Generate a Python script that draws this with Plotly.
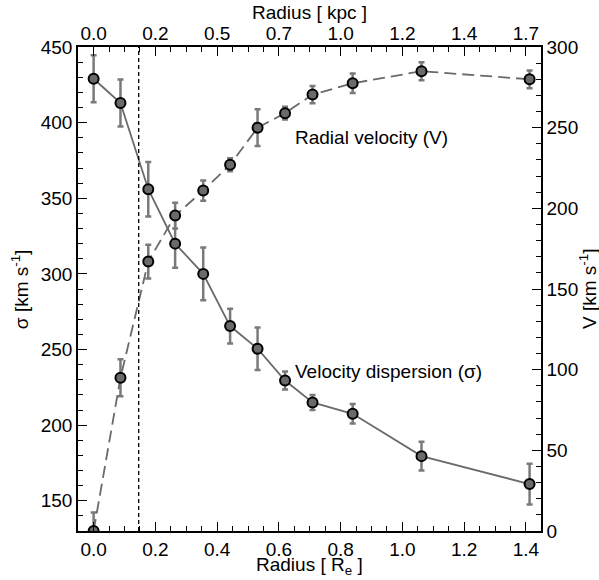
import plotly.graph_objects as go

# Radius in units of R_e
radius_re = [0.0, 0.087, 0.177, 0.264, 0.355, 0.442, 0.531, 0.620, 0.709, 0.839, 1.062, 1.412]
# Velocity dispersion sigma [km/s] and errors
sigma = [429, 413, 356, 320, 300, 265.5, 250.5, 229.5, 215, 207.5, 179.5, 161]
sigma_err = [15.5, 15.5, 18, 16, 17.5, 11.5, 14, 6, 5, 6.5, 9.5, 13.5]
# Radial velocity V [km/s] and errors
vel = [0, 95, 167, 195.5, 211, 227, 250, 259, 270.5, 277.5, 285, 280]
vel_err = [11.5, 11.5, 10.5, 8, 6.3, 4, 11.4, 4, 5.4, 6, 5.6, 5.5]
# Top axis (kpc) tick labels at bottom-axis tick positions
tick_re = [0.0, 0.2, 0.4, 0.6, 0.8, 1.0, 1.2, 1.4]
tick_kpc = ["0.0", "0.2", "0.5", "0.7", "1.0", "1.2", "1.4", "1.7"]
vline_x = 0.146

FONT = "Liberation Sans, Arial, sans-serif"
FS = 19
GRAY = "#6a6a6a"
ERRC = "#7a7a7a"

fig = go.Figure()

fig.add_trace(go.Scatter(
    x=radius_re, y=sigma, mode="lines+markers",
    line=dict(color=GRAY, width=1.8),
    marker=dict(size=10, color=GRAY, line=dict(color="black", width=2)),
    error_y=dict(type="data", array=sigma_err, color=ERRC, thickness=2.5, width=3),
    xaxis="x", yaxis="y", showlegend=False, cliponaxis=False,
))

fig.add_trace(go.Scatter(
    x=radius_re, y=vel, mode="lines+markers",
    line=dict(color=GRAY, width=1.8, dash="12px,6px"),
    marker=dict(size=10, color=GRAY, line=dict(color="black", width=2)),
    error_y=dict(type="data", array=vel_err, color=ERRC, thickness=2.5, width=3),
    xaxis="x2", yaxis="y2", showlegend=False,
))

fig.add_shape(type="line", xref="x", yref="paper", x0=vline_x, x1=vline_x, y0=0, y1=1,
              line=dict(color="black", width=1.3, dash="4px,3px"))

tfont = dict(family=FONT, size=FS, color="black")
fig.add_annotation(x=0.646, y=390, xref="x", yref="y", text="Radial velocity (V)",
                   showarrow=False, xanchor="left", yanchor="middle", font=tfont)
fig.add_annotation(x=0.646, y=235.4, xref="x", yref="y", text="Velocity dispersion (σ)",
                   showarrow=False, xanchor="left", yanchor="middle", font=tfont)

# axis titles
fig.add_annotation(x=0.5, y=-0.0733, xref="paper", yref="paper", text="Radius [ R<sub>e</sub> ]",
                   showarrow=False, xanchor="center", yanchor="middle", font=tfont)
fig.add_annotation(x=0.5, y=1.0722, xref="paper", yref="paper", text="Radius [ kpc ]",
                   showarrow=False, xanchor="center", yanchor="middle", font=tfont)
fig.add_annotation(x=-0.125, y=0.5, xref="paper", yref="paper", text="σ [km s<sup>-1</sup>]",
                   showarrow=False, xanchor="center", yanchor="middle", textangle=-90, font=tfont)
fig.add_annotation(x=1.1015, y=0.5, xref="paper", yref="paper", text="V [km s<sup>-1</sup>]",
                   showarrow=False, xanchor="center", yanchor="middle", textangle=-90, font=tfont)

xr = [-0.0506, 1.449]
common = dict(showgrid=False, zeroline=False, showline=True, linecolor="black", linewidth=1.5,
              ticks="inside", ticklen=9, tickwidth=1.3, tickcolor="black", automargin=False,
              tickfont=dict(family=FONT, size=FS, color="black"))
minor_x = dict(dtick=0.05, ticks="inside", ticklen=5, tickwidth=1.2, tickcolor="black")
minor_y = dict(dtick=10, ticks="inside", ticklen=5, tickwidth=1.2, tickcolor="black")

fig.update_layout(
    width=599, height=580,
    margin=dict(l=78, r=58, t=47, b=48.5),
    paper_bgcolor="white", plot_bgcolor="white",
    font=dict(family=FONT, size=FS, color="black"),
    xaxis=dict(range=xr, tickvals=tick_re, tickformat=".1f", minor=minor_x, ticklabelstandoff=0, **common),
    xaxis2=dict(range=xr, overlaying="x", side="top", tickvals=tick_re, ticktext=tick_kpc,
                minor=minor_x, ticklabelstandoff=-2, **common),
    yaxis=dict(range=[130, 450], tickvals=[150, 200, 250, 300, 350, 400, 450], minor=minor_y, **common),
    yaxis2=dict(range=[0, 300], overlaying="y", side="right", tickvals=[0, 50, 100, 150, 200, 250, 300],
                minor=minor_y, **common),
)

fig.write_html("out.html", config={"displayModeBar": False},
               post_script="document.body.style.margin='0';document.body.style.overflow='hidden';")
